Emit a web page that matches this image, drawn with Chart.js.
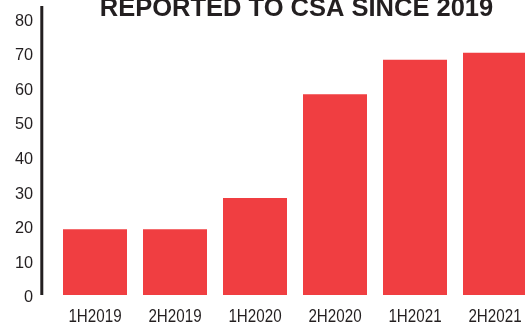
<!DOCTYPE html>
<html>
<head>
<meta charset="utf-8">
<script src="https://cdn.jsdelivr.net/npm/chart.js@4/dist/chart.umd.min.js"></script>
<style>
  html, body { margin: 0; padding: 0; background: #fff; overflow: hidden; }
  #wrap { width: 525px; height: 324px; overflow: hidden; position: relative; }
</style>
</head>
<body>
<div id="wrap">
  <canvas id="chart" width="545" height="324"></canvas>
</div>
<script>
// data
const title = "REPORTED TO CSA SINCE 2019";
const periods = ["1H2019", "2H2019", "1H2020", "2H2020", "1H2021", "2H2021"];
const reports = [19, 19, 28, 58, 68, 70];
const yTicks = [0, 10, 20, 30, 40, 50, 60, 70, 80];

const red = "#F03E41";
const ink = "#231F20";

// title sits half cut off above the plot, so draw it by hand
const titlePlugin = {
  id: "cutTitle",
  afterDraw(chart) {
    const ctx = chart.ctx;
    const area = chart.chartArea;
    ctx.save();
    ctx.font = 'bold 25.5px "Liberation Sans", Arial, sans-serif';
    ctx.fillStyle = ink;
    ctx.textAlign = "center";
    ctx.textBaseline = "alphabetic";
    ctx.fillText(title, (area.left + area.right) / 2 + 1.5, 16);
    ctx.restore();
  }
};

// y axis line stands a bit left of the plot area
const axisLine = {
  id: "axisLine",
  afterDraw(chart) {
    const ctx = chart.ctx;
    const area = chart.chartArea;
    const x = chart.scales.y.right - 13.2;
    ctx.save();
    ctx.strokeStyle = ink;
    ctx.lineWidth = 3;
    ctx.beginPath();
    ctx.moveTo(x, area.top);
    ctx.lineTo(x, area.bottom);
    ctx.stroke();
    ctx.restore();
  }
};

// category labels are in a condensed face; squeeze the regular one
const condensedLabels = {
  id: "condensedLabels",
  afterDraw(chart) {
    const ctx = chart.ctx;
    const xs = chart.scales.x;
    ctx.save();
    ctx.font = '18.5px "Liberation Sans", Arial, sans-serif';
    ctx.fillStyle = ink;
    ctx.textAlign = "center";
    ctx.textBaseline = "alphabetic";
    periods.forEach((p, i) => {
      ctx.save();
      ctx.translate(xs.getPixelForTick(i), 322);
      ctx.scale(0.82, 1);
      ctx.fillText(p, 0, 0);
      ctx.restore();
    });
    ctx.restore();
  }
};

new Chart(document.getElementById("chart"), {
  type: "bar",
  data: {
    labels: periods,
    datasets: [{
      data: reports,
      backgroundColor: red,
      borderWidth: 0,
      barPercentage: 0.8,
      categoryPercentage: 1.0
    }]
  },
  options: {
    responsive: false,
    devicePixelRatio: 1,
    animation: false,
    layout: { padding: { left: 15, right: 10, top: 6, bottom: 0 } },
    plugins: {
      legend: { display: false },
      title: { display: false },
      tooltip: { enabled: false }
    },
    scales: {
      x: {
        offset: true,
        grid: { display: false, drawTicks: false },
        border: { display: false },
        ticks: { display: false },
        afterFit(scale) {
          scale.height = 29;
          scale.paddingLeft = scale.paddingRight = 0;
        }
      },
      y: {
        min: 0,
        max: 83.5,
        grid: { display: false, drawTicks: false },
        border: { display: false },
        afterBuildTicks(scale) {
          scale.ticks = yTicks.map(v => ({ value: v }));
        },
        afterFit(scale) {
          scale.width = 40;
          scale.paddingTop = scale.paddingBottom = 0;
        },
        ticks: {
          color: ink,
          padding: 22,
          labelOffset: 3,
          font: { family: '"Liberation Sans", Arial, sans-serif', size: 16.3 }
        }
      }
    }
  },
  plugins: [titlePlugin, axisLine, condensedLabels]
});
</script>
</body>
</html>
